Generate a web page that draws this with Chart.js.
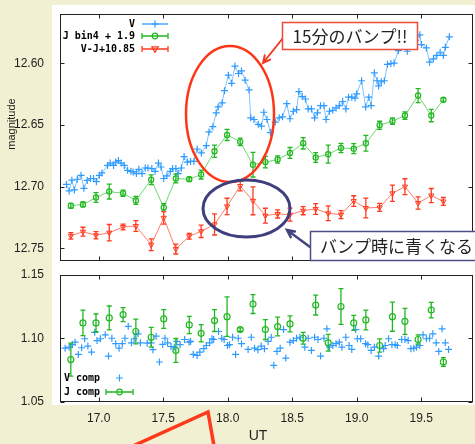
<!DOCTYPE html>
<html>
<head>
<meta charset="utf-8">
<script src="https://cdn.jsdelivr.net/npm/chart.js@4.4.0/dist/chart.umd.min.js"></script>
<style>
  html, body { margin: 0; padding: 0; overflow: hidden; width: 475px; height: 444px; background: #f2f0d2; }
  #paper { position: absolute; left: 52px; top: 5px; width: 430px; height: 400px; background: #fff; }
  #upper { position: absolute; left: 0; top: 0; }
  #lower { position: absolute; left: 0; top: 266px; }
</style>
</head>
<body>
<div id="paper"></div>
<canvas id="upper" width="478" height="266"></canvas>
<canvas id="lower" width="478" height="178"></canvas>
<script>
// tick values
const timeTicks = [17.0, 17.5, 18.0, 18.5, 19.0, 19.5];
const magTicks = [12.60, 12.65, 12.70, 12.75];
const ratioTicks = [1.05, 1.10, 1.15];

// V light curve (UT, magnitude)
const vTime = [16.750,16.771,16.792,16.811,16.834,16.863,16.885,16.911,16.937,16.960,16.982,17.005,17.025,17.069,17.089,17.115,17.132,17.153,17.173,17.198,
  17.224,17.250,17.267,17.292,17.311,17.336,17.361,17.382,17.412,17.437,17.463,17.483,17.504,17.529,17.555,17.573,17.598,17.616,17.641,17.662,
  17.687,17.712,17.738,17.763,17.796,17.834,17.855,17.885,17.911,17.926,17.957,17.975,18.005,18.031,18.056,18.084,18.107,18.135,18.166,18.178,
  18.204,18.237,18.262,18.280,18.305,18.331,18.369,18.399,18.425,18.458,18.483,18.509,18.534,18.552,18.578,18.603,18.624,18.649,18.674,18.695,
  18.720,18.746,18.763,18.789,18.815,18.840,18.865,18.891,18.916,18.937,18.962,18.987,19.000,19.038,19.069,19.094,19.112,19.137,19.158,19.170,
  19.191,19.214,19.239,19.265,19.290,19.323,19.356,19.392,19.425,19.458,19.489,19.502,19.540,19.565,19.595,19.621,19.647,19.672,19.687,19.718];
const vMag = [12.6981,12.7034,12.6947,12.7026,12.6939,12.6907,12.7013,12.6949,12.6933,12.6933,12.6959,12.6907,12.6888,12.6827,12.6808,12.6827,12.6800,12.6787,12.6808,12.6827,
  12.6867,12.6875,12.6880,12.6893,12.6859,12.6893,12.6848,12.6848,12.6853,12.6875,12.6808,12.6840,12.6933,12.6911,12.6875,12.6853,12.6853,12.6893,12.6848,12.6755,
  12.6800,12.6795,12.6795,12.6694,12.6726,12.6667,12.6556,12.6513,12.6401,12.6353,12.6321,12.6221,12.6096,12.6162,12.6022,12.6082,12.6061,12.6136,12.6215,12.6441,
  12.6455,12.6494,12.6508,12.6396,12.6455,12.6561,12.6476,12.6441,12.6433,12.6327,12.6449,12.6388,12.6375,12.6229,12.6269,12.6289,12.6369,12.6369,12.6441,12.6401,
  12.6343,12.6343,12.6455,12.6388,12.6380,12.6361,12.6343,12.6309,12.6369,12.6274,12.6274,12.6281,12.6247,12.6141,12.6353,12.6274,12.6343,12.6077,12.6141,12.6183,
  12.6149,12.6141,12.6008,12.6002,12.5998,12.5896,12.5843,12.5902,12.5811,12.5811,12.5769,12.5848,12.5875,12.5990,12.5963,12.5936,12.5910,12.5936,12.5870,12.5785];

// J band, binned by 4 (shared times for J bin4, V-J and J comp)
const jTime = [16.784,16.878,16.979,17.082,17.189,17.288,17.407,17.504,17.598,17.702,17.794,17.898,17.995,18.097,18.196,
  18.292,18.387,18.483,18.585,18.682,18.779,18.878,18.977,19.071,19.178,19.277,19.374,19.476,19.578,19.672];
const jMag = [12.7154,12.7143,12.7087,12.7039,12.7053,12.7111,12.6943,12.7167,12.6933,12.6939,12.6901,12.6712,12.6580,12.6636,12.6821,
  12.6800,12.6779,12.6726,12.6648,12.6763,12.6736,12.6686,12.6691,12.6648,12.6502,12.6468,12.6423,12.6261,12.6423,12.6295];
const jErr = [0.0020,0.0020,0.0040,0.0060,0.0025,0.0032,0.0040,0.0030,0.0036,0.0016,0.0036,0.0050,0.0045,0.0030,0.0100,
  0.0047,0.0030,0.0044,0.0046,0.0040,0.0073,0.0037,0.0040,0.0064,0.0033,0.0027,0.0030,0.0057,0.0050,0.0015];
const vjMag = [12.7398,12.7364,12.7393,12.7372,12.7326,12.7318,12.7470,12.7252,12.7505,12.7401,12.7361,12.7305,12.7159,12.6994,12.7114,
  12.7234,12.7220,12.7226,12.7194,12.7180,12.7215,12.7226,12.7116,12.7172,12.7167,12.7053,12.6999,12.7132,12.7071,12.7119];
const vjErr = [0.0027,0.0036,0.0030,0.0066,0.0023,0.0043,0.0047,0.0050,0.0040,0.0023,0.0050,0.0086,0.0066,0.0040,0.0113,
  0.0060,0.0033,0.0053,0.0033,0.0043,0.0060,0.0032,0.0043,0.0080,0.0032,0.0066,0.0064,0.0050,0.0057,0.0032];

// comparison star ratios
const cvTime = [16.740,16.771,16.796,16.817,16.842,16.868,16.891,16.916,16.944,16.969,16.987,17.013,17.051,17.076,17.102,17.132,17.158,17.183,17.204,17.229,
  17.254,17.275,17.305,17.323,17.376,17.407,17.420,17.445,17.471,17.496,17.514,17.534,17.560,17.586,17.605,17.631,17.666,17.700,17.712,17.733,
  17.763,17.784,17.815,17.834,17.860,17.878,17.891,17.929,17.954,17.972,17.998,18.013,18.038,18.061,18.082,18.107,18.158,18.183,18.208,18.234,
  18.260,18.285,18.313,18.338,18.357,18.382,18.407,18.433,18.450,18.483,18.509,18.534,18.560,18.598,18.624,18.649,18.674,18.700,18.720,18.746,
  18.769,18.789,18.815,18.840,18.865,18.885,18.916,18.941,18.962,18.992,19.005,19.031,19.069,19.086,19.112,19.137,19.170,19.208,19.221,19.247,
  19.273,19.298,19.315,19.349,19.374,19.399,19.420,19.443,19.463,19.489,19.514,19.540,19.565,19.590,19.616,19.636,19.662,19.687,19.712];
const cvVal = [1.0924,1.0932,1.0951,1.0971,1.0875,1.0927,1.0998,1.0940,1.0893,1.1049,1.0984,1.0998,1.1029,1.0862,1.1002,1.0959,1.0924,1.0959,1.1002,1.1096,
  1.0966,1.0998,1.1037,1.0966,1.0963,1.0966,1.0912,1.1018,1.0815,1.0953,1.1002,1.0966,1.0937,1.0932,1.0977,1.0951,1.0992,1.0971,1.0977,1.0875,
  1.0867,1.0893,1.0920,1.0945,1.0966,1.0998,1.0992,1.1055,1.1002,1.0992,1.0945,1.0951,1.1010,1.0875,1.1002,1.0959,1.0914,1.1010,1.0924,1.0912,
  1.0940,1.0920,1.0977,1.1010,1.0789,1.0898,1.0924,1.1070,1.0846,1.0971,1.0984,1.1002,1.1010,1.0932,1.1002,1.0906,1.1010,1.0992,1.0862,1.1002,
  1.1076,1.0932,1.0945,1.0959,1.0971,1.0932,1.1010,1.0945,1.0914,1.1070,1.0998,1.0998,1.0959,1.0951,1.0906,1.0932,1.0862,1.0920,1.0945,1.0998,
  1.0951,1.0951,1.0945,1.0992,1.0992,1.0984,1.0920,1.0924,1.0932,1.0945,1.1029,1.0998,1.1002,1.1037,1.0966,1.0898,1.1076,1.0966,1.0914];
const cjVal = [1.0834,1.1123,1.1123,1.1162,1.1188,1.1055,1.1010,1.1154,1.0906,1.1107,1.1041,1.1141,1.1172,1.1070,1.1271,
  1.1070,1.1094,1.1115,1.1002,1.1263,1.0966,1.1252,1.1123,1.1146,1.0945,1.1172,1.1135,1.0992,1.1224,1.0815];
const cjErr = [0.0130,0.0100,0.0070,0.0094,0.0055,0.0098,0.0078,0.0074,0.0094,0.0068,0.0068,0.0086,0.0156,0.0013,0.0074,
  0.0078,0.0074,0.0063,0.0047,0.0078,0.0066,0.0140,0.0059,0.0078,0.0052,0.0115,0.0102,0.0037,0.0061,0.0035];

const BLUE = '#2f9bff', BLUE_LINE = '#80c4ff';
const GREEN = '#22b822', GREEN_LINE = '#6cd86c';
const RED = '#ff3a1e', RED_LINE = '#ff7c68';
const INK = '#222';
const TICK_FONT = { family: 'Liberation Sans, Arial, sans-serif', size: 12 };
const LEGEND_FONT = 'bold 10px "DejaVu Sans Mono", monospace';
const JP_FONT = '17px "Noto Sans CJK JP", sans-serif';

const pts = (xs, ys) => xs.map((x, i) => ({ x: x, y: ys[i] }));

// fixed axis sizes, no extra label padding
function fixWidth(s) { s.width = 60; s.paddingTop = 0; s.paddingBottom = 0; }
function fixHeight(s) { s.height = 42; s.paddingLeft = 0; s.paddingRight = 0; }
function useTicks(values) { return s => { s.ticks = values.map(v => ({ value: v })); }; }

const errorBars = {
  id: 'errorBars',
  afterDatasetsDraw(chart) {
    const { ctx, scales: { x, y } } = chart;
    ctx.save();
    chart.data.datasets.forEach(ds => {
      if (!ds.errors) return;
      ctx.strokeStyle = ds.errorColor;
      ctx.lineWidth = 1.3;
      ctx.beginPath();
      ds.data.forEach((p, i) => {
        const px = x.getPixelForValue(p.x);
        const y1 = y.getPixelForValue(p.y - ds.errors[i]);
        const y2 = y.getPixelForValue(p.y + ds.errors[i]);
        ctx.moveTo(px, y1); ctx.lineTo(px, y2);
        ctx.moveTo(px - 2.5, y1); ctx.lineTo(px + 2.5, y1);
        ctx.moveTo(px - 2.5, y2); ctx.lineTo(px + 2.5, y2);
      });
      ctx.stroke();
    });
    ctx.restore();
  }
};

// gnuplot style box with inward ticks
const frame = {
  id: 'frame',
  afterDatasetsDraw(chart) {
    const { ctx, chartArea: a, scales: { x, y } } = chart;
    ctx.save();
    ctx.strokeStyle = INK;
    ctx.lineWidth = 1;
    const l = Math.round(a.left) + 0.5, t = Math.round(a.top) + 0.5;
    const r = Math.round(a.right) - 0.5, b = Math.round(a.bottom) - 0.5;
    ctx.strokeRect(l, t, r - l, b - t);
    ctx.beginPath();
    timeTicks.forEach(v => {
      const px = Math.round(x.getPixelForValue(v)) + 0.5;
      ctx.moveTo(px, t); ctx.lineTo(px, t + 4);
      ctx.moveTo(px, b); ctx.lineTo(px, b - 4);
    });
    y.ticks.forEach(tk => {
      const py = Math.round(y.getPixelForValue(tk.value)) + 0.5;
      ctx.moveTo(l, py); ctx.lineTo(l + 4, py);
      ctx.moveTo(r, py); ctx.lineTo(r - 4, py);
    });
    ctx.stroke();
    ctx.restore();
  }
};

function marker(ctx, kind, x, y, color) {
  ctx.strokeStyle = color;
  ctx.lineWidth = 1.2;
  ctx.beginPath();
  if (kind === 'cross') {
    ctx.moveTo(x - 3.5, y); ctx.lineTo(x + 3.5, y);
    ctx.moveTo(x, y - 3.5); ctx.lineTo(x, y + 3.5);
  } else if (kind === 'circle') {
    ctx.arc(x, y, 2.8, 0, Math.PI * 2);
  } else if (kind === 'tri') {
    ctx.moveTo(x - 3.2, y - 2.2); ctx.lineTo(x + 3.2, y - 2.2); ctx.lineTo(x, y + 3.2); ctx.closePath();
  }
  ctx.stroke();
}

function legendRow(ctx, text, tx, y, x1, x2, color, kind, withLine) {
  ctx.fillStyle = '#000';
  ctx.font = LEGEND_FONT;
  ctx.textAlign = 'right';
  ctx.textBaseline = 'middle';
  ctx.fillText(text, tx, y);
  const mx = (x1 + x2) / 2;
  if (withLine) {
    ctx.strokeStyle = color;
    ctx.lineWidth = 1.3;
    ctx.beginPath();
    ctx.moveTo(x1, y); ctx.lineTo(x2, y);
    if (kind !== 'cross') {
      ctx.moveTo(x1, y - 3); ctx.lineTo(x1, y + 3);
      ctx.moveTo(x2, y - 3); ctx.lineTo(x2, y + 3);
    }
    ctx.stroke();
  }
  marker(ctx, kind, mx, y, color);
}

function arrow(ctx, x1, y1, x2, y2, color, lw) {
  const ang = Math.atan2(y2 - y1, x2 - x1);
  ctx.strokeStyle = color;
  ctx.lineWidth = lw;
  ctx.lineCap = 'round';
  ctx.beginPath();
  ctx.moveTo(x1, y1); ctx.lineTo(x2, y2);
  ctx.moveTo(x2 - 8 * Math.cos(ang - 0.45), y2 - 8 * Math.sin(ang - 0.45));
  ctx.lineTo(x2, y2);
  ctx.lineTo(x2 - 8 * Math.cos(ang + 0.45), y2 - 8 * Math.sin(ang + 0.45));
  ctx.stroke();
}

function callout(ctx, x, y, w, h, border, text, tx, align) {
  ctx.fillStyle = '#fff';
  ctx.fillRect(x, y, w, h);
  ctx.strokeStyle = border;
  ctx.lineWidth = 1.5;
  ctx.strokeRect(x, y, w, h);
  ctx.fillStyle = INK;
  ctx.font = JP_FONT;
  ctx.textAlign = align;
  ctx.textBaseline = 'middle';
  ctx.fillText(text, tx, y + h / 2 + 1);
}

const upperDecor = {
  id: 'upperDecor',
  afterDraw(chart) {
    const ctx = chart.ctx;
    ctx.save();
    // axis title
    ctx.translate(12, 124);
    ctx.rotate(-Math.PI / 2);
    ctx.fillStyle = INK;
    ctx.font = '11px "Liberation Sans", Arial, sans-serif';
    ctx.textAlign = 'center';
    ctx.textBaseline = 'middle';
    ctx.fillText('magnitude', 0, 0);
    ctx.restore();

    ctx.save();
    legendRow(ctx, 'V', 135, 24, 142, 168, BLUE, 'cross', true);
    legendRow(ctx, 'J bin4 + 1.9', 135, 36, 142, 168, GREEN, 'circle', true);
    legendRow(ctx, 'V-J+10.85', 135, 49, 142, 168, RED, 'tri', true);

    // highlight ellipses
    ctx.lineWidth = 2.5;
    ctx.strokeStyle = '#ff3518';
    ctx.beginPath();
    ctx.ellipse(230, 114, 44, 68, 0, 0, Math.PI * 2);
    ctx.stroke();
    ctx.lineWidth = 3;
    ctx.strokeStyle = '#3f3f7d';
    ctx.beginPath();
    ctx.ellipse(246.5, 208.5, 43.5, 28.5, 0, 0, Math.PI * 2);
    ctx.stroke();

    arrow(ctx, 283, 38, 263, 63, '#f03a22', 2);
    arrow(ctx, 310, 247, 287, 230, '#44447e', 2.5);
    callout(ctx, 282.5, 22.5, 135, 27, '#f04a3a', '15分のバンプ!!', 350, 'center');
    callout(ctx, 310.5, 231.5, 175, 29, '#4e4e86', 'バンプ時に青くなる', 320, 'left');
    ctx.restore();
  }
};

const lowerDecor = {
  id: 'lowerDecor',
  afterDraw(chart) {
    const ctx = chart.ctx;
    ctx.save();
    legendRow(ctx, 'V comp', 100, 112, 106, 133, BLUE, 'cross', false);
    legendRow(ctx, 'J comp', 100, 126, 106, 133, GREEN, 'circle', true);

    ctx.fillStyle = INK;
    ctx.font = '14px "Liberation Sans", Arial, sans-serif';
    ctx.textAlign = 'center';
    ctx.textBaseline = 'middle';
    ctx.fillText('UT', 258, 170);

    ctx.strokeStyle = '#ff3a1a';
    ctx.lineWidth = 3.5;
    ctx.lineJoin = 'miter';
    ctx.beginPath();
    ctx.moveTo(133, 180); ctx.lineTo(208, 146); ctx.lineTo(214, 180);
    ctx.stroke();
    ctx.restore();
  }
};

const common = {
  responsive: false,
  animation: false,
  plugins: { legend: { display: false }, tooltip: { enabled: false } },
};

new Chart(document.getElementById('upper'), {
  type: 'line',
  data: {
    datasets: [
      { label: 'V', data: pts(vTime, vMag), borderColor: BLUE_LINE, borderWidth: 1,
        pointStyle: 'cross', pointRadius: 3.5, pointBorderColor: BLUE, pointBorderWidth: 1.2 },
      { label: 'J bin4 + 1.9', data: pts(jTime, jMag), errors: jErr, errorColor: GREEN,
        borderColor: GREEN_LINE, borderWidth: 1, pointStyle: 'circle', pointRadius: 2.6,
        pointBorderColor: GREEN, pointBackgroundColor: 'rgba(255,255,255,0)', pointBorderWidth: 1.2 },
      { label: 'V-J+10.85', data: pts(jTime, vjMag), errors: vjErr, errorColor: RED,
        borderColor: RED_LINE, borderWidth: 1, pointStyle: 'triangle', pointRotation: 180, pointRadius: 3,
        pointBorderColor: RED, pointBackgroundColor: 'rgba(255,255,255,0)', pointBorderWidth: 1 },
    ],
  },
  options: {
    ...common,
    layout: { padding: { top: 14, bottom: 3, left: 0, right: 0 } },
    scales: {
      x: { type: 'linear', display: false, min: 16.7, max: 19.9 },
      y: {
        reverse: true, min: 12.56, max: 12.76,
        afterFit: fixWidth, afterBuildTicks: useTicks(magTicks),
        grid: { display: false }, border: { display: false },
        ticks: { padding: 8, color: INK, font: TICK_FONT, callback: v => v.toFixed(2) },
      },
    },
  },
  plugins: [errorBars, frame, upperDecor],
});

new Chart(document.getElementById('lower'), {
  type: 'scatter',
  data: {
    datasets: [
      { label: 'V comp', data: pts(cvTime, cvVal), showLine: false,
        pointStyle: 'cross', pointRadius: 3.5, pointBorderColor: BLUE, pointBorderWidth: 1.2 },
      { label: 'J comp', data: pts(jTime, cjVal), showLine: false, errors: cjErr, errorColor: GREEN,
        pointStyle: 'circle', pointRadius: 3, pointBorderColor: GREEN,
        pointBackgroundColor: 'rgba(255,255,255,0)', pointBorderWidth: 1.2 },
    ],
  },
  options: {
    ...common,
    layout: { padding: { top: 9, bottom: 0, left: 0, right: 0 } },
    scales: {
      x: {
        type: 'linear', min: 16.7, max: 19.9,
        afterFit: fixHeight, afterBuildTicks: useTicks(timeTicks),
        grid: { display: false }, border: { display: false },
        ticks: { padding: 1, color: INK, font: TICK_FONT, maxRotation: 0, callback: v => v.toFixed(1) },
      },
      y: {
        min: 1.05, max: 1.15,
        afterFit: fixWidth, afterBuildTicks: useTicks(ratioTicks),
        grid: { display: false }, border: { display: false },
        ticks: { padding: 8, color: INK, font: TICK_FONT, callback: v => v.toFixed(2) },
      },
    },
  },
  plugins: [errorBars, frame, lowerDecor],
});
</script>
</body>
</html>
